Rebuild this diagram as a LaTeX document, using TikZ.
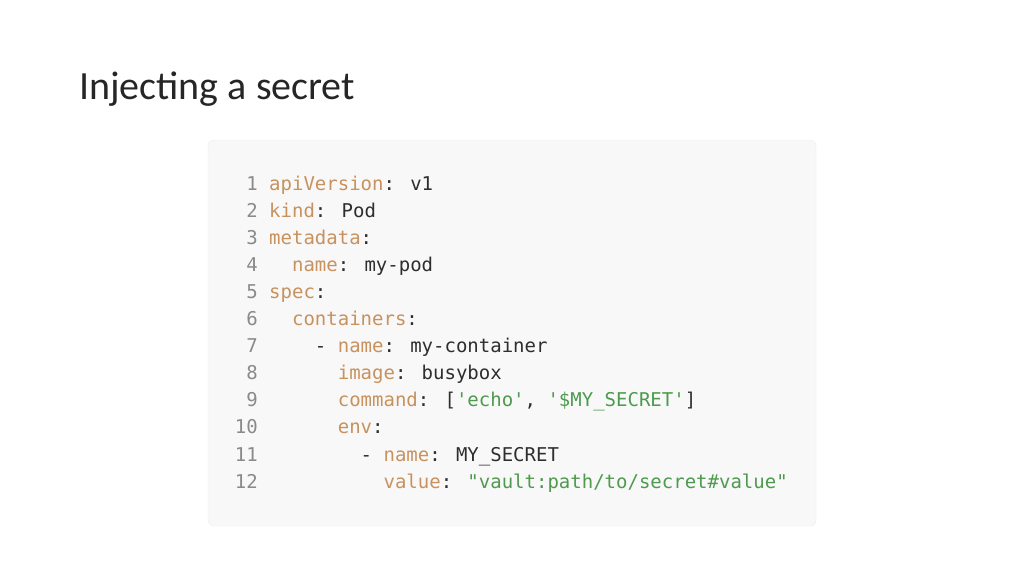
\documentclass[tikz,border=0pt]{standalone}
\usepackage{fontspec}
\setmainfont{Carlito}
\newfontfamily\codefont{DejaVu Sans Mono}
\definecolor{keyc}{HTML}{C8925E}
\definecolor{strc}{HTML}{4E9A4E}
\definecolor{numc}{HTML}{8A8A8A}
\definecolor{txtc}{HTML}{2E2E2E}
\definecolor{boxc}{HTML}{F8F8F8}
\newcommand{\K}[1]{\textcolor{keyc}{#1}}
\newcommand{\Sg}[1]{\textcolor{strc}{#1}}
\begin{document}
\begin{tikzpicture}[x=1pt,y=-1pt,
  num/.style={anchor=base east,inner sep=0pt,font=\codefont\fontsize{19}{19}\selectfont,text=numc},
  code/.style={anchor=base west,inner sep=0pt,font=\codefont\fontsize{19}{19}\selectfont,text=txtc}]
\useasboundingbox[fill=white] (0,0) rectangle (1024,576);
\node[anchor=base west,inner sep=0pt,font=\fontsize{40}{40}\selectfont,text=black!85] (title) at (79,99) {Injecting a secret};
\path[fill=boxc,draw=black!8,rounded corners=6pt] (208,140) rectangle (816,526);
\foreach \i in {1,...,12}{\node[num] (n\i) at (258,{190+27.1*(\i-1)}) {\i};}
\newcommand{\ind}[1]{\hspace*{#1\fontcharwd\font`0}}
\node[code] (c1) at (269,190) {\K{apiVersion}: v1};
\node[code] (c2) at (269,217.1) {\K{kind}: Pod};
\node[code] (c3) at (269,244.2) {\K{metadata}:};
\node[code] (c4) at (269,271.3) {\ind{2}\K{name}: my-pod};
\node[code] (c5) at (269,298.4) {\K{spec}:};
\node[code] (c6) at (269,325.5) {\ind{2}\K{containers}:};
\node[code] (c7) at (269,352.6) {\ind{4}- \K{name}: my-container};
\node[code] (c8) at (269,379.7) {\ind{6}\K{image}: busybox};
\node[code] (c9) at (269,406.8) {\ind{6}\K{command}: [\Sg{'echo'}, \Sg{'\$MY\_SECRET'}]};
\node[code] (c10) at (269,433.9) {\ind{6}\K{env}:};
\node[code] (c11) at (269,461.0) {\ind{8}- \K{name}: MY\_SECRET};
\node[code] (c12) at (269,488.1) {\ind{10}\K{value}: \Sg{"vault:path/to/secret\#value"}};
\end{tikzpicture}
\end{document}
